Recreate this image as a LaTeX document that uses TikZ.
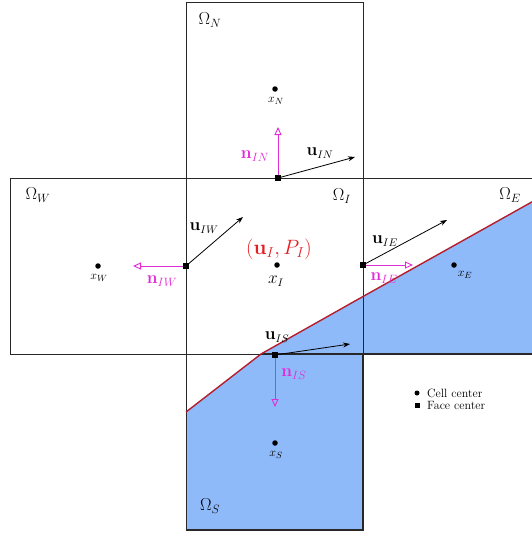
\documentclass[tikz,border=0pt]{standalone}
\usepackage{amsmath}
\usetikzlibrary{arrows.meta}
\definecolor{fillb}{RGB}{142,186,250}
\definecolor{redl}{RGB}{180,30,45}
\definecolor{mag}{RGB}{225,45,215}
\definecolor{lblred}{RGB}{230,30,35}
\definecolor{cellline}{RGB}{40,40,40}
\tikzset{
  cellbox/.style={draw=cellline, line width=0.9pt},
  cc/.style={circle, fill=black, inner sep=0pt, minimum size=5.5pt},
  fc/.style={rectangle, fill=black, inner sep=0pt, minimum size=5.5pt},
  uvec/.style={draw=black, line width=0.8pt, -{Stealth[length=7pt,width=5pt]}},
  nvec/.style={draw=mag, line width=0.9pt, -{Triangle[open,length=8pt,width=7pt]}},
  omlab/.style={font=\fontsize{18}{20}\selectfont, inner sep=0pt},
  ptlab/.style={font=\fontsize{13}{15}\selectfont, inner sep=0pt},
  ulab/.style={font=\fontsize{16}{18}\selectfont, inner sep=0pt},
  nlab/.style={font=\fontsize{17}{19}\selectfont, inner sep=0pt, text=mag},
  leglab/.style={font=\fontsize{12}{14}\selectfont, inner sep=0pt, anchor=west}
}
\begin{document}
\begin{tikzpicture}[x=1pt,y=-1pt]
\clip (0,0) rectangle (532,535);
\fill[white] (0,0) rectangle (532,535);
% blue region
\fill[fillb] (186,412) -- (261,354) -- (363,296.5) -- (545,194.6) -- (545,354) -- (363,354) -- (363,530) -- (186,530) -- cycle;
% cells
\draw[cellbox] (10,178) rectangle (186,354);
\draw[cellbox] (186,2) rectangle (363,178);
\draw[cellbox] (186,178) rectangle (363,354);
\draw[cellbox] (363,178) rectangle (545,354);
\draw[cellbox] (186,354) rectangle (363,530);
% blue region darker outline
\draw[cellline, line width=1.5pt] (261,354) -- (545,354);
\draw[cellline, line width=1.5pt] (363,354) -- (363,530) -- (186,530);
% interface
\draw[redl, line width=1.4pt] (186,412) -- (261,354) -- (363,296.5) -- (545,194.6);
% cell centers
\node[cc] (xN) at (275,89) {};
\node[cc] (xW) at (98,266) {};
\node[cc] (xI) at (277,265) {};
\node[cc] (xE) at (454,265) {};
\node[cc] (xS) at (275,443) {};
\node[ptlab] (lxN) at (276,101) {$x_N$};
\node[ptlab] (lxW) at (99,278) {$x_W$};
\node[font=\fontsize{16}{18}\selectfont, inner sep=0pt] (lxI) at (276,281) {$x_I$};
\node[ptlab] (lxE) at (465,275) {$x_E$};
\node[ptlab] (lxS) at (276,455) {$x_S$};
% omega labels
\node[omlab] (oN) at (210,20) {$\Omega_N$};
\node[omlab] (oW) at (38,195) {$\Omega_W$};
\node[omlab] (oI) at (342,196) {$\Omega_I$};
\node[omlab] (oE) at (510,195) {$\Omega_E$};
\node[omlab] (oS) at (210,506) {$\Omega_S$};
% state label
\node[font=\fontsize{22}{24}\selectfont, text=lblred, inner sep=0pt] (state) at (279,249) {$(\mathbf{u}_I, P_I)$};
% face centers
\coordinate (fN) at (278,178);
\coordinate (fW) at (186,266);
\coordinate (fE) at (363,265);
\coordinate (fS) at (275,355);
% end points
\coordinate (uNe) at (355,157);
\coordinate (nNe) at (278,127);
\coordinate (uWe) at (243,217);
\coordinate (nWe) at (133,266);
\coordinate (uEe) at (447,220);
\coordinate (nEe) at (413,265);
\coordinate (uSe) at (350,344);
\coordinate (nSe) at (275,407);
% vectors
\draw[uvec] (fN) -- (uNe);
\draw[nvec] (fN) -- (nNe);
\draw[uvec] (fW) -- (uWe);
\draw[nvec] (fW) -- (nWe);
\draw[uvec] (fE) -- (uEe);
\draw[nvec] (fE) -- (nEe);
\draw[uvec] (fS) -- (uSe);
\draw[nvec] (fS) -- (nSe);
\node[fc] (sN) at (fN) {};
\node[fc] (sW) at (fW) {};
\node[fc] (sE) at (fE) {};
\node[fc] (sS) at (fS) {};
% vector labels
\node[ulab] (luN) at (320,153) {$\mathbf{u}_{IN}$};
\node[nlab] (lnN) at (255,156) {$\mathbf{n}_{IN}$};
\node[ulab] (luW) at (204,228) {$\mathbf{u}_{IW}$};
\node[nlab] (lnW) at (162,281) {$\mathbf{n}_{IW}$};
\node[ulab] (luE) at (385,241) {$\mathbf{u}_{IE}$};
\node[nlab] (lnE) at (384,278) {$\mathbf{n}_{IE}$};
\node[ulab] (luS) at (277,337) {$\mathbf{u}_{IS}$};
\node[nlab] (lnS) at (294,374) {$\mathbf{n}_{IS}$};
% legend
\node[cc, minimum size=5pt] (lgc) at (417,393) {};
\node[fc, minimum size=5pt] (lgf) at (417,405) {};
\node[leglab] (lgct) at (427,393) {Cell center};
\node[leglab] (lgft) at (427,405) {Face center};
\end{tikzpicture}
\end{document}
